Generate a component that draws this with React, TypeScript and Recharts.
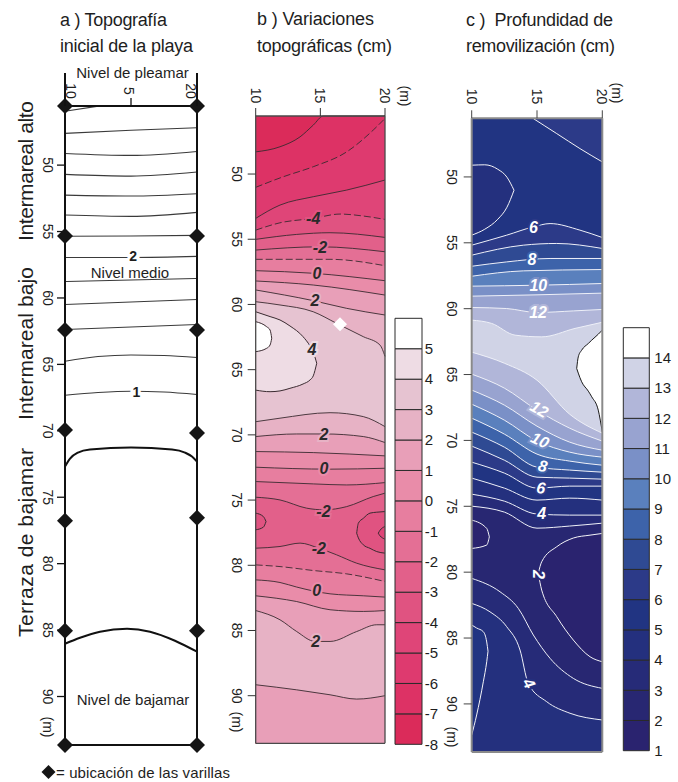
import React from 'react';
import { ComposedChart, Area, Line, XAxis, YAxis, Scatter, BarChart, Bar } from 'recharts';

const W = 678;
const H = 782;
const FONT = "'Liberation Sans', Arial, Helvetica, sans-serif";
const INK = '#1e1e1e';

const Y_MIN = 45.55;
const Y_MAX = 93.65;
const Y_DOMAIN = [Y_MIN, Y_MAX];
const X_DOMAIN = [10, 20];
const Y_TICKS = [50, 55, 60, 65, 70, 75, 80, 85, 90];
const X_TICKS = [10, 15, 20];
const A_X_TICK_LABELS = ['10', '5', '20'];
const A_BOTTOM_TICKS = [15];

// ---------------- panel a : initial topography ----------------
const aThin = [
  [[10, 45.95], [12.4, 45.58]],
  [[10, 47.61], [15, 47.38], [20, 47.19]],
  [[10, 49.12], [15, 49.27], [20, 48.97]],
  [[10, 50.7], [15, 50.83], [20, 50.52]],
  [[10, 52.26], [15, 52.33], [20, 52.15]],
  [[10, 53.76], [15, 53.86], [20, 53.56]],
  [[10, 55.35], [15, 55.33], [20, 55.29]],
  [[10, 56.95], [15, 56.95], [20, 56.87]],
  [[10, 58.76], [15, 58.65], [20, 58.53]],
  [[10, 60.49], [15, 60.3], [20, 60.11]],
  [[10, 62.37], [15, 62.19], [20, 62.0]],
  [[10, 64.76], [12.5, 64.41], [15, 64.29], [17.5, 64.33], [20, 64.48]],
  [[10, 67.32], [12.5, 67.12], [15, 67.02], [17.5, 67.08], [20, 67.27]],
];
const aThick = [
  [[10, 72.69], [10.38, 72.09], [10.98, 71.64], [11.89, 71.41], [15, 71.26], [18.11, 71.41], [19.09, 71.64], [19.62, 71.94], [20, 72.32]],
  [[10, 86.03], [11.14, 85.58], [12.65, 85.12], [14.7, 84.9], [16.44, 85.12], [18.33, 85.8], [20, 86.63]],
];
const aRods = [
  [10, 45.55], [20, 45.55], [10, 55.34], [20, 55.34], [10, 62.41], [20, 62.41],
  [10, 69.94], [20, 70.16], [10, 76.77], [20, 76.54], [10, 85.05], [20, 85.05],
  [10, 93.65], [20, 93.65],
];
const aLabels = [
  { x: 15.17, y: 56.84, t: '2' },
  { x: 15.4, y: 67.1, t: '1' },
];
const aNotes = [
  { x: 14.92, y: 58.08, t: 'Nivel medio' },
  { x: 15.15, y: 90.21, t: 'Nivel de bajamar' },
];

// ---------------- panel b : topographic variations ----------------
const bLevels = [-8, -7, -6, -5, -4, -3, -2, -1, 0, 1, 2, 3, 4, 5];
const bColors = [
  '#db2b5a', '#dd3265', '#de3a6f', '#df4578', '#e05381', '#e2608a', '#e46f95',
  '#e77e9f', '#e98ca9', '#e89fb8', '#e7b2c5', '#e6c3d1', '#eedce4', '#ffffff',
];
const bColor = (lvl) => bColors[Math.max(0, Math.min(13, lvl + 8))];

const bBackground = { under: -8, pts: [[10, Y_MIN], [20, Y_MIN]] };
const bContours = [
  { level: -7, under: -7, pts: [[10, 48.3], [11.88, 47.91], [13.43, 47.15], [14.45, 46.25], [15.23, 45.55], [17.5, 45.55], [20, 45.55]] },
  { level: -6, under: -6, pts: [[10, 51.02], [12.13, 50.21], [14.45, 49.44], [17.04, 48.3], [19.09, 46.63], [20, 45.74]] },
  { level: -5, under: -5, pts: [[10, 53.4], [11.88, 52.38], [14.45, 51.74], [17.04, 51.23], [20, 50.46]] },
  { level: -4, under: -4, pts: [[10, 54.3], [11.88, 53.74], [14.45, 53.4], [16.52, 53.07], [18.32, 53.22], [20, 53.48]] },
  { level: -3, under: -3, pts: [[10, 55.01], [13.17, 54.63], [15.75, 54.5], [20, 54.86]] },
  { level: -2, under: -2, pts: [[10, 55.83], [14.97, 55.58], [20, 55.96]] },
  { level: -1, under: -1, pts: [[10, 56.54], [15.75, 56.54], [20, 57.03]] },
  { level: 0, under: 0, pts: [[10, 57.41], [14.45, 57.61], [20, 58.18]] },
  { level: 1, under: 1, pts: [[10, 58.2], [14.45, 58.51], [20, 59.28]] },
  { level: 2, under: 2, pts: [[10, 58.89], [14.45, 59.71], [17.04, 60.3], [20, 60.81]] },
  { level: 3, under: 3, pts: [[10, 59.79], [11.88, 60.04], [14.45, 60.56], [16.26, 61.45], [18.32, 62.47], [19.61, 63.11], [20, 63.98]] },
  { level: 3, under: 2, pts: [[10, 68.99], [11.88, 68.72], [15.75, 68.3], [18.32, 68.6], [20, 69.37]] },
  { level: 2, under: 1, pts: [[10, 70.13], [13.17, 69.93], [15.3, 69.93], [18.32, 70.13], [20, 70.59]] },
  { level: 1, under: 0, pts: [[10, 71.28], [14.45, 71.36], [20, 71.61]] },
  { level: 0, under: -1, pts: [[10, 72.48], [15.75, 72.63], [20, 72.56]] },
  { level: -1, under: -2, pts: [[10, 73.58], [14.45, 73.76], [17.04, 73.84], [20, 73.66]] },
  { level: -2, under: -3, pts: [[10, 74.78], [11.88, 74.99], [13.94, 75.62], [15.28, 75.75], [17.04, 75.5], [19.09, 74.73], [20, 74.47]] },
  { level: -2, under: -2, pts: [[10, 78.69], [11.88, 78.56], [13.43, 78.3], [14.88, 78.69], [16.26, 79.2], [17.81, 79.84], [20, 80.35]] },
  { level: -1, under: -1, pts: [[10, 79.97], [11.88, 80.1], [14.45, 80.4], [17.04, 80.66], [20, 81.24]] },
  { level: 0, under: 0, pts: [[10, 81.12], [11.88, 81.32], [13.17, 81.67], [15.75, 82.19], [18.32, 82.34], [20, 82.44]] },
  { level: 1, under: 1, pts: [[10, 82.34], [13.17, 82.78], [15.75, 83.41], [18.32, 83.54], [20, 83.47]] },
  { level: 2, under: 2, pts: [[10, 83.47], [11.88, 84.18], [13.17, 85.08], [14.59, 85.84], [15.75, 85.84], [17.81, 85.08], [19.36, 84.56], [20, 84.56]] },
  { level: 2, under: 1, pts: [[10, 89.16], [13.17, 89.55], [15.75, 89.93], [17.81, 90.26], [20, 90.0]] },
];
const bDashedLevels = [-6, -4, -1];
const bIslands = [
  { band: 4, pts: [[10, 60.56, 66.57], [11.11, 60.93, 66.69], [11.88, 61.19, 66.63], [12.65, 61.65, 66.43], [13.66, 62.47, 66.1], [14.2, 63.18, 65.79], [14.45, 63.64, 65.48], [14.72, 64.51, 64.51]] },
  { band: 5, pts: [[10, 61.32, 63.62], [10.85, 61.71, 63.36], [11.11, 61.96, 63.11], [11.24, 62.59, 62.59]] },
  { band: -4, pts: [[10, 76.0, 77.28], [10.59, 76.26, 77.08], [10.8, 76.65, 76.65]] },
  { band: -4, pts: [[17.81, 77.54, 77.54], [17.94, 76.77, 77.9], [18.32, 76.4, 78.43], [18.84, 76.0, 78.7], [19.36, 75.93, 78.95], [20, 75.88, 79.07]] },
  { band: -5, pts: [[19.48, 77.54, 77.54], [19.61, 77.32, 77.74], [19.8, 77.13, 77.9], [20, 77.03, 78.0]] },
];
const bLabels = [
  { x: 14.45, y: 53.4, t: '-4' }, { x: 14.97, y: 55.64, t: '-2' }, { x: 14.74, y: 57.59, t: '0' },
  { x: 14.59, y: 59.7, t: '2' }, { x: 14.35, y: 63.49, t: '4' }, { x: 15.28, y: 69.98, t: '2' },
  { x: 15.28, y: 72.61, t: '0' }, { x: 15.24, y: 75.87, t: '-2' }, { x: 14.88, y: 78.69, t: '-2' },
  { x: 14.72, y: 81.96, t: '0' }, { x: 14.65, y: 85.81, t: '2' },
];
const bMarker = [{ x: 16.52, y: 61.52 }];

// ---------------- panel c : remobilization depth ----------------
const cLevels = [1, 2, 3, 4, 5, 6, 7, 8, 9, 10, 11, 12, 13, 14];
const cColors = [
  '#2a236f', '#282772', '#262b78', '#24307e', '#213482', '#2c3a88', '#2f4a93',
  '#3d63aa', '#5a80bd', '#7a90c7', '#98a3d0', '#b1b6d9', '#d0d3e6', '#ffffff',
];
const cColor = (lvl) => cColors[Math.max(0, Math.min(13, lvl - 1))];
const cX = [10, 12.5, 15, 17.5, 20];

const cBackground = { under: 5, pts: [[10, Y_MIN], [20, Y_MIN]] };
const cUpper = [
  { level: 6, under: 6, pts: [[10, 55.18], [12.68, 54.42], [14.72, 53.79], [16.0, 53.54], [18.29, 54.04], [20, 54.6]] },
  { level: 7, under: 7, pts: [[10, 55.94], [13.95, 55.18], [16.51, 55.05], [20, 55.43]] },
  { level: 8, under: 8, pts: [[10, 56.78], [12.68, 56.45], [16.0, 56.19], [20, 56.19]] },
  { level: 9, under: 9, pts: [[10, 57.54], [13.95, 57.13], [20, 57.03]] },
  { level: 10, under: 10, pts: [[10, 58.29], [15, 58.22], [20, 58.09]] },
  { level: 11, under: 11, pts: [[10, 59.05], [15, 58.95], [20, 58.82]] },
  { level: 12, under: 12, pts: [[10, 59.91], [12.68, 59.99], [15, 60.29], [17.78, 60.17], [20, 60.06]] },
  { level: 13, under: 13, pts: [[10, 60.87], [11.53, 61.12], [13.32, 62.01], [15.36, 62.14], [17.91, 61.5], [20, 61.03]] },
];
const cLowerLevels = [13, 12, 11, 10, 9, 8, 7, 6, 5, 4, 3];
const cLowerY = [
  [63.3, 64.14, 65.43, 68.01, 69.45],
  [64.97, 66.03, 67.7, 69.07, 70.05],
  [66.18, 67.32, 68.92, 70.13, 70.74],
  [67.25, 68.46, 70.05, 70.89, 71.27],
  [68.31, 69.52, 71.04, 71.57, 71.88],
  [69.37, 70.51, 72.03, 72.25, 72.41],
  [70.43, 71.5, 72.79, 72.86, 72.94],
  [71.65, 72.48, 73.62, 73.47, 73.47],
  [72.86, 73.62, 74.53, 74.38, 74.53],
  [74.08, 74.61, 75.59, 75.67, 75.67],
  [74.99, 75.44, 76.66, 76.5, 76.28],
];
const cBottom = [
  { level: 3, under: 3, pts: [[10, 80.47], [12.17, 81.49], [13.57, 82.75], [14.72, 84.77], [16.0, 86.54], [17.78, 88.06], [20, 88.82]] },
  { level: 4, under: 4, pts: [[10, 82.37], [11.4, 83.01], [12.68, 84.14], [13.7, 85.91], [14.33, 88.44], [15.74, 89.83], [17.53, 90.71], [20, 91.22]] },
];
const cIslands = [
  { band: 6, edge: 'w', pts: [[14.72, Y_MIN, 45.57], [15.6, Y_MIN, 46.13], [16.51, Y_MIN, 46.71], [18.29, Y_MIN, 47.85], [20, Y_MIN, 48.86]] },
  { band: 4, edge: 'w', pts: [[10, 49.11, 54.42], [11.0, 49.08, 53.97], [12.0, 49.42, 53.21], [12.7, 50.02, 52.3], [13.24, 51.01, 51.01]] },
  { band: 14, edge: 'k', pts: [[18.04, 64.54, 64.54], [18.16, 63.66, 64.89], [18.42, 63.15, 65.55], [18.93, 62.64, 66.26], [19.19, 62.39, 66.69], [19.69, 61.94, 67.7], [20, 61.63, 69.37]] },
  { band: 1, edge: 'w', pts: [[15.1, 80.09, 80.09], [15.36, 79.21, 81.36], [16.51, 78.07, 83.38], [17.78, 77.41, 85.15], [19.06, 77.19, 86.42], [20, 77.06, 86.8]] },
  { band: 1, edge: 'w', pts: [[10, 76.05, 78.2], [11.15, 76.68, 77.94], [11.35, 77.32, 77.32]] },
  { band: 5, edge: 'w', pts: [[10, 84.01, 92.36], [10.38, 84.24, 90.84], [10.89, 84.52, 88.32], [11.15, 85.3, 86.8], [11.25, 86.0, 86.0]] },
];
const cLabels = [
  { x: 14.72, y: 53.82, t: '6', a: 0 }, { x: 14.62, y: 56.28, t: '8', a: 0 },
  { x: 15.1, y: 58.24, t: '10', a: 0 }, { x: 15.08, y: 60.27, t: '12', a: 0 },
  { x: 15.17, y: 67.63, t: '12', a: 30 }, { x: 15.23, y: 69.98, t: '10', a: 25 },
  { x: 15.44, y: 71.95, t: '8', a: 12 }, { x: 15.31, y: 73.6, t: '6', a: 8 },
  { x: 15.36, y: 75.58, t: '4', a: 0 }, { x: 15.15, y: 80.18, t: '2', a: 90 },
  { x: 14.39, y: 88.44, t: '4', a: 60 },
];

// ---------------- helpers ----------------
const toXY = (a) => a.map(([x, y]) => ({ x, y }));
const toR = (a) => a.map(([x, lo, hi]) => ({ x, lo, hi }));
const toBottom = (d) => [d.y, Y_MAX];
const loHi = (d) => [d.lo, d.hi];

const aThinData = aThin.map(toXY);
const aThickData = aThick.map(toXY);
const aRodData = toXY(aRods);

const bPaintData = [bBackground, ...bContours].map((c) => ({ fill: bColor(c.under), data: toXY(c.pts) }));
const bLineData = bContours.map((c) => ({ data: toXY(c.pts), dashed: bDashedLevels.includes(c.level) && c.under === c.level }));
const bIslandData = bIslands.map((c) => ({ fill: bColor(c.band), data: toR(c.pts) }));

const cLowerContours = cLowerLevels.map((lvl, i) => ({ level: lvl, under: lvl === 3 ? 2 : lvl - 1, pts: cX.map((x, j) => [x, cLowerY[i][j]]) }));
const cAll = [...cUpper, ...cLowerContours, ...cBottom];
const cPaintData = [cBackground, ...cAll].map((c) => ({ fill: cColor(c.under), data: toXY(c.pts) }));
const cLineData = cAll.map((c) => toXY(c.pts));
const cIslandData = cIslands.map((c) => ({ fill: cColor(c.band), stroke: c.edge === 'k' ? '#1a1a1a' : '#f4f4f8', data: toR(c.pts) }));

const BOX_A = { l: 65, t: 106, r: 197, b: 745 };
const BOX_B = { l: 255.7, t: 116, r: 385, b: 743.3 };
const BOX_C = { l: 471.7, t: 118.3, r: 602.3, b: 752 };
const CB_B = { l: 395, t: 318.3, r: 421.7, b: 744.3 };
const CB_C = { l: 623.3, t: 327.7, r: 649.3, b: 750.7 };

const marginFor = (bx) => ({ top: bx.t - 30, left: bx.l - 30, right: W - bx.r - 10, bottom: H - bx.b - 10 });

const rot90 = (x, y, s, size = 14) => (
  <text x={x} y={y} transform={`rotate(90 ${x} ${y})`} textAnchor="middle" dominantBaseline="central" fontSize={size} fontFamily={FONT} fill={INK}>{s}</text>
);
const mkLeftTick = (dx) => (p) => rot90(p.x + dx, p.y, String(p.payload.value));
const mkTopTick = (dy) => (p) => rot90(p.x, p.y + dy, String(p.payload.value));
const noTick = () => <g />;
const aTopTick = (p) => {
  const v = p.payload.value;
  const axisY = p.y + 10;
  const dx = v === 10 ? 6 : v === 20 ? -6 : -2;
  return (
    <g>
      {v !== 15 && <line x1={p.x} x2={p.x} y1={axisY} y2={axisY - 33} stroke="#111" strokeWidth={2} />}
      {rot90(p.x + dx, axisY - 15, A_X_TICK_LABELS[X_TICKS.indexOf(v)])}
    </g>
  );
};

const diamondShape = (fill, r) => (p) => (
  <polygon points={`${p.cx},${p.cy - r} ${p.cx + r},${p.cy} ${p.cx},${p.cy + r} ${p.cx - r},${p.cy}`} fill={fill} />
);
const aLabelShape = (p) => (
  <text x={p.cx} y={p.cy} textAnchor="middle" dominantBaseline="central" fontSize={14} fontWeight="bold" fontFamily={FONT} fill={INK} stroke="#fff" strokeWidth={6} paintOrder="stroke">{p.payload.t}</text>
);
const aNoteShape = (p) => (
  <text x={p.cx} y={p.cy} textAnchor="middle" dominantBaseline="central" fontSize={15} fontFamily={FONT} fill={INK}>{p.payload.t}</text>
);
const bLabelShape = (p) => (
  <text x={p.cx} y={p.cy} textAnchor="middle" dominantBaseline="central" fontSize={16} fontWeight="bold" fontStyle="italic" fontFamily={FONT} fill="#2a2a2a" stroke={bColor(Number(p.payload.t))} strokeWidth={4} paintOrder="stroke">{p.payload.t}</text>
);
const cLabelShape = (p) => (
  <text x={p.cx} y={p.cy} transform={`rotate(${p.payload.a} ${p.cx} ${p.cy})`} textAnchor="middle" dominantBaseline="central" fontSize={16} fontWeight="bold" fontStyle="italic" fontFamily={FONT} fill="#ffffff" stroke={cColor(Number(p.payload.t))} strokeWidth={4} paintOrder="stroke">{p.payload.t}</text>
);

function frameAxes(st, topTick, leftTick, bottomTicks) {
  const axisLine = { stroke: st.line, strokeWidth: st.lw };
  const tickLine = { stroke: st.tick, strokeWidth: st.tw };
  return [
    <XAxis key="xt" xAxisId="t" type="number" dataKey="x" orientation="top" domain={X_DOMAIN} ticks={X_TICKS} interval={0} height={30} tickSize={8} axisLine={axisLine} tickLine={tickLine} tick={topTick} />,
    <XAxis key="xb" xAxisId="b" type="number" dataKey="x" orientation="bottom" domain={X_DOMAIN} ticks={bottomTicks} interval={0} height={10} tickSize={8} axisLine={axisLine} tickLine={tickLine} tick={noTick} />,
    <YAxis key="yl" yAxisId="l" type="number" dataKey="y" domain={Y_DOMAIN} reversed ticks={Y_TICKS} interval={0} width={30} tickSize={8} axisLine={axisLine} tickLine={tickLine} tick={leftTick} />,
    <YAxis key="yr" yAxisId="r" orientation="right" type="number" dataKey="y" domain={Y_DOMAIN} reversed ticks={Y_TICKS} interval={0} width={10} tickSize={8} axisLine={axisLine} tickLine={tickLine} tick={noTick} />,
  ];
}

const common = { xAxisId: 't', yAxisId: 'l', isAnimationActive: false, legendType: 'none' };

const paintArea = (key, data, fill) => (
  <Area key={key} {...common} data={data} dataKey={toBottom} type="monotone" stroke="none" fill={fill} fillOpacity={1} dot={false} activeDot={false} />
);
const islandArea = (key, data, fill, stroke) => (
  <Area key={key} {...common} data={data} dataKey={loHi} type="monotone" stroke={stroke} strokeWidth={1} fill={fill} fillOpacity={1} dot={false} activeDot={false} />
);
const contourLine = (key, data, stroke, sw, dash) => (
  <Line key={key} {...common} data={data} dataKey="y" type="monotone" stroke={stroke} strokeWidth={sw} strokeDasharray={dash} dot={false} activeDot={false} />
);

function PanelA() {
  return (
    <div style={{ position: 'absolute', left: 0, top: 0 }}>
      <ComposedChart width={W} height={H} margin={marginFor(BOX_A)}>
        {aThinData.map((d, i) => contourLine('at' + i, d, '#3a3a3a', 1.1))}
        {aThickData.map((d, i) => contourLine('ak' + i, d, '#111', 2))}
        {frameAxes({ line: '#111', lw: 2, tick: '#111', tw: 1.3 }, aTopTick, mkLeftTick(-7), A_BOTTOM_TICKS)}
        <Scatter {...common} data={aLabels} shape={aLabelShape} />
        <Scatter {...common} data={aNotes} shape={aNoteShape} />
        <Scatter {...common} data={aRodData} shape={diamondShape('#151515', 8)} />
      </ComposedChart>
    </div>
  );
}

function PanelB() {
  return (
    <div style={{ position: 'absolute', left: 0, top: 0 }}>
      <ComposedChart width={W} height={H} margin={marginFor(BOX_B)}>
        {bPaintData.map((c, i) => paintArea('bp' + i, c.data, c.fill))}
        {bIslandData.map((c, i) => islandArea('bi' + i, c.data, c.fill, '#3a2a30'))}
        {bLineData.map((c, i) => contourLine('bl' + i, c.data, '#3a2a30', 0.9, c.dashed ? '7 3' : undefined))}
        {frameAxes({ line: '#4a4a4a', lw: 1.3, tick: '#333', tw: 1 }, mkTopTick(-10.5), mkLeftTick(-8.7), X_TICKS)}
        <Scatter {...common} data={bLabels} shape={bLabelShape} />
        <Scatter {...common} data={bMarker} shape={diamondShape('#ffffff', 7)} />
      </ComposedChart>
    </div>
  );
}

function PanelC() {
  return (
    <div style={{ position: 'absolute', left: 0, top: 0 }}>
      <ComposedChart width={W} height={H} margin={marginFor(BOX_C)}>
        {cPaintData.map((c, i) => paintArea('cp' + i, c.data, c.fill))}
        {cLineData.map((d, i) => contourLine('cl' + i, d, '#eef0f8', 1))}
        {cIslandData.map((c, i) => islandArea('ci' + i, c.data, c.fill, c.stroke))}
        {frameAxes({ line: '#8a8a8a', lw: 2, tick: '#444', tw: 1 }, mkTopTick(-11.8), mkLeftTick(-9.7), X_TICKS)}
        <Scatter {...common} data={cLabels} shape={cLabelShape} />
      </ComposedChart>
    </div>
  );
}

const barRow = (colors) => [colors.reduce((o, _c, i) => ({ ...o, ['s' + i]: 1 }), { k: 'bar' })];
const bBarData = barRow(bColors);
const cBarData = barRow(cColors);
const barTicks = (levels) => levels.map((_v, i) => i);

function ColorBar({ box, colors, levels, data, gap }) {
  const fmt = (i) => String(levels[i]);
  return (
    <div style={{ position: 'absolute', left: 0, top: 0 }}>
      <BarChart width={W} height={H} data={data} barCategoryGap={0} margin={{ top: box.t, left: box.l, right: W - box.r - 30, bottom: H - box.b }}>
        <XAxis dataKey="k" hide />
        <YAxis orientation="right" type="number" domain={[0, colors.length]} ticks={barTicks(levels)} interval={0} tickFormatter={fmt} width={30} axisLine={false} tickLine={false} tickSize={0} tickMargin={gap} tick={{ fontSize: 15, fill: INK, fontFamily: FONT }} />
        {colors.map((c, i) => (
          <Bar key={i} dataKey={'s' + i} stackId="cb" fill={c} stroke="#2a2a2a" strokeWidth={1} isAnimationActive={false} />
        ))}
      </BarChart>
    </div>
  );
}

function Overlay() {
  const t = { fontFamily: FONT, fill: INK };
  const vlab = (cx, cy, s, len) => (
    <text x={33} y={cy} transform={`rotate(-90 ${cx} ${cy})`} textAnchor="middle" fontSize={21} textLength={len} {...t}>{s}</text>
  );
  return (
    <svg width={W} height={H} style={{ position: 'absolute', left: 0, top: 0, pointerEvents: 'none' }}>
      <text x={60} y={26} fontSize={18} textLength={107} {...t}>a ) Topografía</text>
      <text x={60} y={51.5} fontSize={18} textLength={133} {...t}>inicial de la playa</text>
      <text x={257} y={25} fontSize={18} textLength={117} {...t}>b ) Variaciones</text>
      <text x={257} y={51.5} fontSize={18} textLength={135} {...t}>topográficas (cm)</text>
      <text x={466} y={26} fontSize={18} textLength={147} style={{ whiteSpace: 'pre' }} {...t}>c )  Profundidad de</text>
      <text x={466} y={51.5} fontSize={18} textLength={149} {...t}>removilización (cm)</text>
      <text x={132.5} y={78} fontSize={15} textAnchor="middle" {...t}>Nivel de pleamar</text>
      {vlab(33, 171, 'Intermareal alto', 140)}
      {vlab(33, 343.5, 'Intermareal bajo', 153)}
      {vlab(33, 542.5, 'Terraza de bajamar', 189)}
      {rot90(405, 96, '(m)')}
      {rot90(617, 93, '(m)')}
      {rot90(48, 727, '(m)')}
      {rot90(237, 722, '(m)')}
      {rot90(452, 737, '(m)')}
      <polygon points="48.5,765 55.5,772 48.5,779 41.5,772" fill="#151515" />
      <text x={56} y={777.5} fontSize={15} textLength={174} {...t}>= ubicación de las varillas</text>
    </svg>
  );
}

export default function App() {
  return (
    <div style={{ position: 'absolute', left: 0, top: 0, width: W, height: H, background: '#fff', overflow: 'hidden' }}>
      <PanelA />
      <PanelB />
      <PanelC />
      <ColorBar box={CB_B} colors={bColors} levels={bLevels} data={bBarData} gap={3} />
      <ColorBar box={CB_C} colors={cColors} levels={cLevels} data={cBarData} gap={5} />
      <Overlay />
    </div>
  );
}
